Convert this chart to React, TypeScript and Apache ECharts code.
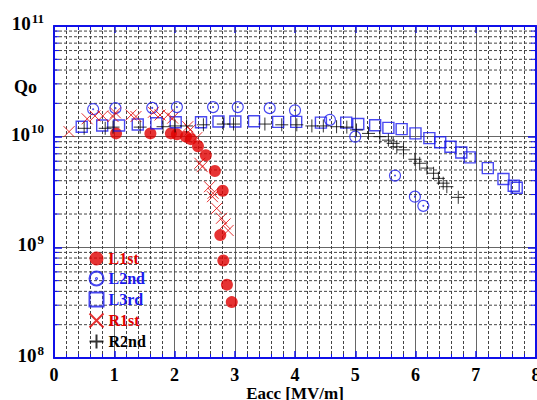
import React, { useEffect, useRef } from "react";
import * as echarts from "echarts";

const xTickLabels = ["0", "1", "2", "3", "4", "5", "6", "7", "8"];
const yDecades = [1e8, 1e9, 1e10, 1e11];
const yMinorGrid = [
  2e8, 3e8, 4e8, 5e8, 6e8, 7e8, 8e8, 9e8,
  2e9, 3e9, 4e9, 5e9, 6e9, 7e9, 8e9, 9e9,
  2e10, 3e10, 4e10, 5e10, 6e10, 7e10, 8e10, 9e10,
];

const l1st: [number, number][] = [
  [1.03, 1.07e10], [1.6, 1.07e10], [1.94, 1.07e10], [2.04, 1.05e10], [2.19, 1.0e10],
  [2.27, 9.5e9], [2.39, 8.2e9], [2.52, 6.8e9], [2.67, 4.9e9], [2.8, 3.25e9],
  [2.76, 1.29e9], [2.81, 7.6e8], [2.87, 4.6e8], [2.95, 3.2e8],
];
const l2nd: [number, number][] = [
  [0.65, 1.77e10], [1.02, 1.81e10], [1.63, 1.82e10], [2.04, 1.85e10], [2.64, 1.85e10],
  [3.05, 1.85e10], [3.58, 1.81e10], [4.0, 1.73e10], [4.58, 1.42e10], [5.0, 1.0e10],
  [5.66, 4.45e9], [5.99, 2.87e9], [6.13, 2.37e9],
];
const l3rd: [number, number][] = [
  [0.46, 1.23e10], [0.8, 1.26e10], [1.08, 1.26e10], [1.39, 1.29e10], [1.7, 1.32e10],
  [2.02, 1.35e10], [2.44, 1.35e10], [2.73, 1.37e10], [3.01, 1.37e10], [3.32, 1.38e10],
  [3.72, 1.36e10], [4.02, 1.36e10], [4.43, 1.34e10], [4.85, 1.34e10], [5.05, 1.3e10],
  [5.33, 1.27e10], [5.55, 1.2e10], [5.77, 1.17e10], [6.0, 1.07e10], [6.23, 9.7e9],
  [6.41, 8.9e9], [6.58, 8.1e9], [6.76, 7.2e9], [6.9, 6.5e9], [7.2, 5.2e9],
  [7.46, 4.15e9], [7.63, 3.6e9], [7.68, 3.46e9],
];
const r1st: [number, number][] = [
  [0.25, 1.11e10], [0.55, 1.45e10], [0.68, 1.54e10], [0.81, 1.54e10], [0.98, 1.52e10],
  [1.02, 1.64e10], [1.28, 1.57e10], [1.36, 1.52e10], [1.65, 1.66e10], [1.76, 1.57e10],
  [1.89, 1.57e10], [1.97, 1.47e10], [2.22, 1.23e10], [2.26, 1.15e10], [2.37, 9.8e9],
  [2.42, 5.75e9], [2.46, 5.36e9], [2.58, 3.53e9], [2.64, 3.08e9], [2.63, 2.87e9],
  [2.7, 2.25e9], [2.78, 1.83e9], [2.84, 1.63e9], [2.89, 1.42e9],
];
const r2nd: [number, number][] = [
  [0.5, 1.19e10], [0.85, 1.19e10], [0.98, 1.22e10], [1.43, 1.22e10], [1.81, 1.23e10],
  [2.01, 1.25e10], [2.2, 1.25e10], [2.48, 1.28e10], [2.81, 1.3e10], [2.98, 1.3e10],
  [3.5, 1.3e10], [3.78, 1.28e10], [4.03, 1.28e10], [4.28, 1.25e10], [4.47, 1.25e10],
  [4.69, 1.23e10], [4.86, 1.22e10], [5.02, 1.15e10], [5.22, 1.07e10], [5.41, 1.0e10],
  [5.55, 9.3e9], [5.63, 8.7e9], [5.69, 8.1e9], [5.8, 7.6e9], [5.99, 6.25e9],
  [6.07, 5.75e9], [6.19, 5.2e9], [6.3, 4.67e9], [6.38, 4.2e9], [6.46, 3.8e9],
  [6.52, 3.53e9], [6.71, 2.83e9],
];

const RED = "#e00000";
const BLUE = "#1a1aee";
const FRAME = "#1010e8";
const SERIF = "'Liberation Serif', 'Times New Roman', serif";

const circleDot =
  "path://M0,10a10,10 0 1,0 20,0a10,10 0 1,0 -20,0zM9.2,10a0.8,0.8 0 1,0 1.6,0a0.8,0.8 0 1,0 -1.6,0z";
const crossX = "path://M0,0L10,10M10,0L0,10";
const plus = "path://M5,0L5,10M0,5L10,5";

export default function App() {
  const ref = useRef<HTMLDivElement>(null);
  useEffect(() => {
    if (!ref.current) return;
    const chart = echarts.init(ref.current, undefined, { renderer: "svg" });
    const xAxisBase = {
      type: "value",
      min: 0,
      max: 8,
      interval: 1,
      axisLine: { show: true, onZero: false, lineStyle: { color: FRAME, width: 2 } },
      axisTick: { show: true, inside: true, length: 7, lineStyle: { color: FRAME, width: 1.5 } },
      minorTick: { show: true, splitNumber: 5, length: 4, lineStyle: { color: FRAME, width: 1 } },
    };
    const yAxisBase = {
      type: "log",
      logBase: 10,
      min: 1e8,
      max: 1e11,
      axisLine: { show: true, onZero: false, lineStyle: { color: FRAME, width: 2 } },
      axisTick: { show: true, inside: true, length: 8, lineStyle: { color: FRAME, width: 1.5 } },
    };
    chart.setOption({
      animation: false,
      backgroundColor: "#fff",
      grid: { left: 54, top: 26, right: 1, bottom: 42, containLabel: false, outerBoundsMode: "none" },
      xAxis: [
        {
          ...xAxisBase,
          position: "bottom",
          name: "Eacc [MV/m]",
          nameLocation: "middle",
          nameGap: 27,
          nameMoveOverlap: false,
          nameTextStyle: { fontFamily: SERIF, fontWeight: "bold", fontSize: 17, color: "#000" },
          axisLabel: {
            margin: 8,
            fontFamily: SERIF,
            fontWeight: "bold",
            fontSize: 18,
            color: "#000",
            formatter: (v: number) => xTickLabels[Math.round(v)] ?? "",
          },
          splitLine: { show: true, lineStyle: { color: "#666", width: 1 } },
          minorSplitLine: { show: true, lineStyle: { color: "#444", width: 1, type: [3, 2] } },
        },
        {
          ...xAxisBase,
          position: "top",
          axisLabel: { show: false },
          splitLine: { show: false },
          minorSplitLine: { show: false },
        },
      ],
      yAxis: [
        {
          ...yAxisBase,
          position: "left",
          axisLabel: {
            margin: 10,
            formatter: (v: number) => {
              const e = Math.round(Math.log10(v));
              return yDecades.some((d) => Math.abs(Math.log10(d) - e) < 1e-6)
                ? `{b|10}{s|${e}}`
                : "";
            },
            rich: {
              b: { fontFamily: SERIF, fontWeight: "bold", fontSize: 19, color: "#000", padding: [0, 0, 5, 0] },
              s: { fontFamily: SERIF, fontWeight: "bold", fontSize: 13, color: "#000", padding: [0, 0, 16, 1] },
            },
          },
          splitLine: { show: true, lineStyle: { color: "#666", width: 1 } },
        },
        {
          ...yAxisBase,
          position: "right",
          axisLabel: { show: false },
          splitLine: { show: false },
        },
      ],
      legend: {
        orient: "vertical",
        left: 87,
        top: 250,
        padding: 0,
        itemWidth: 14,
        itemHeight: 14,
        itemGap: 2,
        textStyle: { fontFamily: SERIF, fontWeight: "bold", fontSize: 16, lineHeight: 17 },
        data: [
          { name: "L1st", textStyle: { color: RED } },
          { name: "L2nd", textStyle: { color: BLUE } },
          { name: "L3rd", textStyle: { color: BLUE } },
          { name: "R1st", textStyle: { color: RED } },
          { name: "R2nd", textStyle: { color: "#000" } },
        ],
      },
      graphic: [
        {
          type: "text",
          left: 14,
          top: 78,
          style: { text: "Qo", fontFamily: SERIF, fontWeight: "bold", fontSize: 18, fill: "#000" },
        },
      ],
      series: [
        {
          name: "hgrid",
          type: "custom",
          silent: true,
          z: 1,
          data: yMinorGrid.map((v) => [0, v]),
          renderItem: (params: any, api: any) => {
            const cs = params.coordSys;
            const y = api.coord([0, api.value(1)])[1];
            return {
              type: "group",
              children: [
                {
                  type: "line",
                  shape: { x1: cs.x, y1: y, x2: cs.x + cs.width, y2: y },
                  style: { stroke: "#444", lineWidth: 1, lineDash: [3, 2] },
                },
                {
                  type: "line",
                  shape: { x1: cs.x, y1: y, x2: cs.x + 5, y2: y },
                  style: { stroke: FRAME, lineWidth: 1 },
                },
                {
                  type: "line",
                  shape: { x1: cs.x + cs.width - 5, y1: y, x2: cs.x + cs.width, y2: y },
                  style: { stroke: FRAME, lineWidth: 1 },
                },
              ],
            };
          },
        },
        {
          name: "L1st",
          type: "scatter",
          z: 3,
          data: l1st,
          symbol: "circle",
          symbolSize: 12,
          itemStyle: { color: RED },
        },
        {
          name: "L2nd",
          type: "scatter",
          z: 3,
          data: l2nd,
          symbol: circleDot,
          symbolSize: 11,
          itemStyle: { color: "none", borderColor: BLUE, borderWidth: 1.2 },
        },
        {
          name: "L3rd",
          type: "scatter",
          z: 3,
          data: l3rd,
          symbol: "rect",
          symbolSize: 11,
          itemStyle: { color: "none", borderColor: BLUE, borderWidth: 1.4 },
        },
        {
          name: "R1st",
          type: "scatter",
          z: 4,
          data: r1st,
          symbol: crossX,
          symbolSize: 11,
          itemStyle: { color: "none", borderColor: RED, borderWidth: 1 },
        },
        {
          name: "R2nd",
          type: "scatter",
          z: 4,
          data: r2nd,
          symbol: plus,
          symbolSize: 13,
          itemStyle: { color: "none", borderColor: "#000", borderWidth: 1 },
        },
      ],
    });
    return () => chart.dispose();
  }, []);
  return (
    <div
      ref={ref}
      style={{ position: "fixed", left: 0, top: 0, width: 537, height: 400 }}
    />
  );
}
